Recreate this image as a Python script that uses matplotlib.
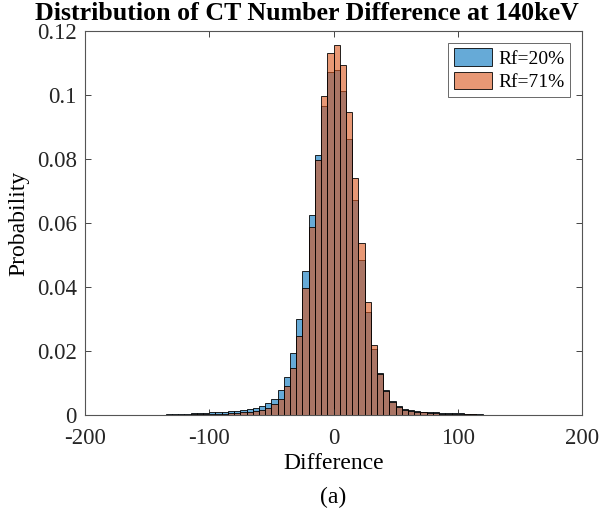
import numpy as np
import matplotlib
matplotlib.use("Agg")
import matplotlib.pyplot as plt

# Bin edges (width 5) from -150 to 140
bin_edges = list(range(-150, 145, 5))

rf20 = [0.0001, 0.0001, 0.0001, 0.0002, 0.0002, 0.0003, 0.0004, 0.0005, 0.0005, 0.0006,
        0.0008, 0.0008, 0.0009, 0.0011, 0.0013, 0.0015, 0.0018, 0.0022, 0.0027, 0.0038,
        0.0051, 0.0077, 0.0119, 0.0195, 0.0301, 0.0449, 0.0626, 0.0812, 0.0967, 0.1072,
        0.1077, 0.1012, 0.0863, 0.0671, 0.0483, 0.0322, 0.0207, 0.0131, 0.0079, 0.0045,
        0.0027, 0.0019, 0.0015, 0.0012, 0.0010, 0.0009, 0.0008, 0.0007, 0.0006, 0.0006,
        0.0005, 0.0004, 0.0002, 0.0002, 0.0001, 0.0001, 0.0001, 0.0000]

rf71 = [0.0000, 0.0000, 0.0000, 0.0001, 0.0001, 0.0001, 0.0001, 0.0002, 0.0002, 0.0003,
        0.0003, 0.0004, 0.0004, 0.0005, 0.0006, 0.0008, 0.0010, 0.0013, 0.0017, 0.0023,
        0.0033, 0.0051, 0.0090, 0.0148, 0.0247, 0.0397, 0.0588, 0.0798, 0.0997, 0.1131,
        0.1155, 0.1093, 0.0946, 0.0741, 0.0539, 0.0353, 0.0218, 0.0127, 0.0075, 0.0042,
        0.0025, 0.0017, 0.0013, 0.0010, 0.0008, 0.0007, 0.0005, 0.0004, 0.0004, 0.0003,
        0.0003, 0.0002, 0.0002, 0.0001, 0.0001, 0.0001, 0.0001, 0.0000]

series_labels = ["Rf=20%", "Rf=71%"]
xticks = [-200, -100, 0, 100, 200]
yticks = [0, 0.02, 0.04, 0.06, 0.08, 0.1, 0.12]
ytick_labels = ["0", "0.02", "0.04", "0.06", "0.08", "0.1", "0.12"]

plt.rcParams['font.family'] = ['Liberation Serif', 'DejaVu Serif']

fig = plt.figure(figsize=(6.0, 5.27), dpi=100)
ax = fig.add_axes([0.1417, 0.2125, 0.8283, 0.7287])

blue = (0.0, 0.447, 0.741, 0.6)
orange = (0.85, 0.325, 0.098, 0.6)
edge = (0, 0, 0, 0.85)

edges = np.array(bin_edges, dtype=float)
lefts = edges[:-1]
widths = np.diff(edges)
ax.bar(lefts, rf20, width=widths, align='edge', facecolor=blue, edgecolor=edge,
       linewidth=0.7, label=series_labels[0])
ax.bar(lefts, rf71, width=widths, align='edge', facecolor=orange, edgecolor=edge,
       linewidth=0.7, label=series_labels[1])

ax.set_xlim(-200, 200)
ax.set_ylim(0, 0.12)
ax.set_xticks(xticks)
ax.set_xticklabels([str(t) for t in xticks])
ax.set_yticks(yticks)
ax.set_yticklabels(ytick_labels)
ax.tick_params(direction='in', top=True, right=True, length=4, width=0.6,
               colors='#262626', labelsize=16.5)
ax.tick_params(axis='x', pad=9)
ax.tick_params(axis='y', pad=6)
for s in ax.spines.values():
    s.set_color('#555555')
    s.set_linewidth(0.8)

ax.set_xlabel("Difference", fontsize=17, labelpad=3)
ax.set_ylabel("Probability", fontsize=17, labelpad=5)
fig.text(307 / 600, 1 - 20 / 527, "Distribution of CT Number Difference at 140keV",
         ha='center', va='baseline', fontsize=18.6, fontweight='bold')

leg = ax.legend(loc='upper right', fontsize=14, frameon=True, fancybox=False,
                edgecolor='#262626', borderpad=0.3, handlelength=2.0, handleheight=1.0,
                handletextpad=0.3, labelspacing=0.2, borderaxespad=0.6)
leg.get_frame().set_linewidth(0.6)

fig.text(0.556, 0.057, "(a)", ha='center', va='center', fontsize=17)

fig.savefig("out.png", dpi=100)
